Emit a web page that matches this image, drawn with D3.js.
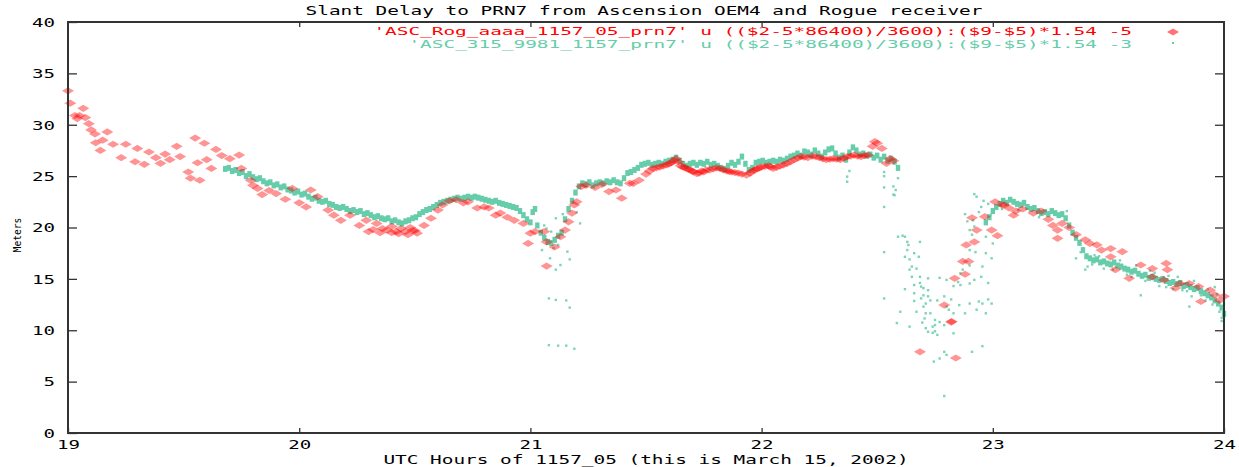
<!DOCTYPE html>
<html>
<head>
<meta charset="utf-8">
<script src="https://cdn.jsdelivr.net/npm/d3@7"></script>
<style>
  html, body { margin: 0; padding: 0; background: #fff; }
  svg { display: block; }
  text { font-family: "DejaVu Sans Mono", "Liberation Mono", monospace; }
</style>
</head>
<body>
<svg id="chart" width="1239" height="467"></svg>
<script>
// ---- labels -------------------------------------------------------------
const titleText = "Slant Delay to PRN7 from Ascension OEM4 and Rogue receiver";
const xLabelText = "UTC Hours of 1157_05 (this is March 15, 2002)";
const yLabelText = "Meters";
const rogueKey = "'ASC_Rog_aaaa_1157_05_prn7' u (($2-5*86400)/3600):($9-$5)*1.54 -5";
const oem4Key = "'ASC_315_9981_1157_prn7' u (($2-5*86400)/3600):($9-$5)*1.54 -3";

// ---- ticks --------------------------------------------------------------
const xTicks = [19, 20, 21, 22, 23, 24];
const yTicks = [0, 5, 10, 15, 20, 25, 30, 35, 40];

// ---- Rogue receiver: [UTC hour, slant delay in meters] -------------------
const rogueDelay = [
  [19.000,33.3],[19.010,32.1],[19.030,30.9],[19.040,30.6],[19.050,30.9],[19.066,31.6],
  [19.075,30.7],[19.090,30.1],[19.100,29.5],[19.117,29.1],[19.120,28.25],[19.140,27.5],
  [19.150,28.5],[19.170,29.3],[19.195,28.1],[19.230,26.8],[19.250,28.1],[19.290,26.4],
  [19.300,27.7],[19.330,26.15],[19.350,27.35],[19.380,26.8],[19.400,26.25],[19.420,27.15],
  [19.440,26.6],[19.470,27.9],[19.485,26.9],[19.520,25.4],[19.530,24.8],[19.550,28.7],
  [19.560,26.3],[19.570,24.6],[19.590,28.2],[19.600,26.6],[19.620,25.75],[19.640,27.6],
  [19.665,27.0],[19.700,26.7],[19.740,27.05],[19.750,25.75],[19.790,24.6],[19.800,24.1],
  [19.820,23.8],[19.840,23.2],[19.870,23.6],[19.900,23.3],[19.940,22.75],[19.970,23.8],
  [20.000,22.4],[20.030,22.0],[20.050,23.65],[20.080,23.0],[20.125,21.7],[20.150,21.2],
  [20.180,20.7],[20.220,21.2],[20.260,20.2],[20.290,20.7],[20.300,19.6],[20.335,20.4],
  [20.320,19.8],[20.350,19.5],[20.360,19.9],[20.380,19.75],[20.400,19.5],[20.400,20.1],
  [20.420,19.6],[20.430,19.4],[20.440,19.9],[20.460,19.6],[20.470,19.3],[20.480,20.0],
  [20.490,19.7],[20.500,19.7],
  [20.510,19.45],[20.540,20.2],[20.570,20.9],[20.600,21.7],[20.620,22.2],[20.650,22.6],
  [20.680,22.7],[20.710,22.4],[20.730,22.5],[20.770,21.9],[20.800,22.0],[20.820,21.9],
  [20.850,21.2],[20.870,21.4],[20.900,21.0],[20.930,20.7],[20.970,20.4],[21.000,19.45],
  [20.990,18.45],[21.020,19.6],[21.060,19.6],[21.070,18.6],[21.105,18.1],[21.070,16.25],
  [21.130,19.1],[21.150,19.75],[21.165,20.55],[21.180,21.4],[21.190,22.2],[21.200,22.5],
  [21.220,24.0],[21.240,24.1],[21.280,23.9],[21.310,24.2],[21.340,23.5],[21.370,23.65],
  [21.395,22.85],[21.430,24.3],[21.445,24.3],[21.470,24.6],[21.500,25.2],[21.515,25.5],
  [21.530,25.75],[21.545,25.8],[21.560,25.9],[21.575,26.0],[21.590,26.1],[21.600,26.2],
  [21.610,26.3],[21.620,26.5],[21.630,26.7],[21.640,26.4],[21.650,26.0],[21.660,25.9],
  [21.670,25.8],[21.680,25.7],[21.690,25.6],[21.700,25.5],[21.705,25.4],[21.720,25.25],
  [21.730,25.3],[21.740,25.5],[21.750,25.4],[21.760,25.6],[21.775,25.6],[21.790,25.7],
  [21.805,25.8],[21.820,25.75],[21.835,25.6],[21.850,25.5],[21.860,25.45],[21.870,25.4],
  [21.885,25.35],[21.900,25.3],[21.915,25.2],[21.935,25.1],[21.950,25.3],[21.960,25.5],
  [21.970,25.6],[21.980,25.7],[21.990,25.8],[22.000,25.9],[22.015,25.95],[22.030,26.0],
  [22.040,25.9],[22.050,25.75],[22.065,25.85],[22.080,26.0],[22.095,26.1],[22.110,26.25],
  [22.125,26.4],[22.140,26.6],[22.155,26.75],[22.170,26.9],[22.185,26.85],[22.200,26.8],
  [22.220,26.95],[22.235,26.9],[22.250,26.8],[22.265,26.7],[22.280,26.6],[22.295,26.65],
  [22.310,26.7],[22.325,26.65],[22.340,26.6],[22.355,26.75],[22.370,26.9],[22.385,26.95],
  [22.400,27.05],[22.415,26.95],[22.430,26.9],[22.445,27.0],[22.460,27.05],
  [22.480,27.9],[22.490,28.35],[22.500,28.2],[22.520,27.7],[22.540,26.25],[22.555,26.7],
  [22.570,26.5],
  [22.685,7.9],[22.790,12.45],[22.820,10.8],[22.822,10.85],[22.840,7.3],[22.835,15.05],
  [22.880,15.45],[22.870,16.7],[22.895,16.7],[22.885,18.3],[22.920,18.6],[22.930,19.75],
  [22.995,19.75],[23.020,19.2],[22.910,20.95],[22.965,21.05],[23.010,22.5],[23.040,22.2],
  [23.090,21.2],[23.050,22.2],[23.070,21.9],[23.100,21.6],[23.130,21.8],[23.175,21.4],
  [23.210,21.6],[23.240,20.8],[23.260,20.2],[23.280,19.75],[23.280,18.95],[23.300,20.4],
  [23.330,20.0],[23.360,19.3],[23.400,18.8],[23.420,18.45],[23.450,18.3],[23.470,17.8],
  [23.510,17.95],[23.510,17.15],[23.560,17.65],[23.530,15.9],[23.590,15.05],[23.640,16.35],
  [23.690,16.0],[23.750,16.5],[23.755,15.9],[23.690,15.2],[23.740,14.9],[23.790,14.1],
  [23.810,14.55],[23.850,14.55],[23.890,14.25],[23.900,12.8],[23.940,13.9],[23.960,13.45],
  [24.000,13.3],[23.980,12.9]
];

// ---- OEM4 receiver, continuous track: [UTC hour, meters] ----------------
const oem4Trace = [
  [19.680,25.7],[19.695,25.8],[19.710,25.5],[19.725,25.6],[19.740,25.3],[19.755,25.4],
  [19.770,25.0],[19.785,25.2],[19.800,24.9],[19.815,24.7],[19.830,24.8],[19.845,24.5],
  [19.860,24.3],[19.875,24.4],[19.890,24.1],[19.905,24.2],[19.920,23.9],[19.935,24.0],
  [19.950,23.7],[19.965,23.6],[19.980,23.4],[19.995,23.5],[20.010,23.2],[20.025,23.3],
  [20.040,23.0],[20.055,22.8],[20.070,22.9],[20.085,22.6],[20.100,22.5],[20.115,22.6],
  [20.130,22.3],[20.145,22.2],[20.160,22.0],[20.175,21.9],[20.190,22.0],[20.205,21.8],
  [20.220,21.6],[20.235,21.7],[20.250,21.5],[20.265,21.6],[20.280,21.3],[20.295,21.4],
  [20.310,21.2],[20.325,21.0],[20.340,21.1],[20.355,20.9],[20.370,20.8],[20.385,20.9],
  [20.400,20.6],[20.415,20.7],[20.430,20.5],[20.445,20.4],[20.460,20.6],[20.475,20.7],
  [20.490,20.9],[20.505,21.0],[20.520,21.3],[20.535,21.5],[20.550,21.7],[20.565,21.8],
  [20.580,22.0],[20.595,22.2],[20.610,22.4],[20.625,22.5],[20.640,22.6],[20.655,22.7],
  [20.670,22.8],[20.685,22.9],[20.700,22.8],[20.715,22.9],[20.730,23.0],[20.745,22.9],
  [20.760,23.0],[20.775,22.9],[20.790,22.8],[20.805,22.7],[20.820,22.6],[20.835,22.5],
  [20.850,22.6],[20.865,22.4],[20.880,22.3],[20.895,22.2],[20.910,22.1],[20.925,22.0],
  [20.940,21.9],[20.955,21.6],[20.970,21.2],[20.985,20.8],[21.000,20.5],[21.010,21.5],
  [21.020,21.8],[21.030,20.2],[21.045,19.5],[21.060,19.0],[21.075,18.6],[21.090,18.5],
  [21.105,18.8],[21.120,19.2],[21.135,19.5],[21.150,20.8],[21.165,21.8],[21.180,22.6],
  [21.195,23.4],[21.210,24.0],[21.225,24.3],[21.240,24.2],[21.255,24.4],[21.270,24.1],
  [21.285,24.3],[21.300,24.4],[21.315,24.3],[21.330,24.5],[21.345,24.4],[21.360,24.6],
  [21.375,24.4],[21.390,24.3],[21.405,24.8],[21.420,25.3],[21.435,25.4],[21.450,25.6],
  [21.465,25.8],[21.480,26.1],[21.495,26.2],[21.510,26.3],[21.525,26.1],[21.540,26.2],
  [21.555,26.3],[21.570,26.2],[21.585,26.4],[21.600,26.5],[21.615,26.6],[21.630,26.8],
  [21.645,26.5],[21.660,26.2],[21.675,26.0],[21.690,26.2],[21.705,26.3],[21.720,26.1],
  [21.735,26.3],[21.750,26.2],[21.765,26.4],[21.780,26.1],[21.795,26.2],[21.810,26.0],
  [21.825,25.8],[21.840,25.7],[21.855,26.0],[21.870,26.3],[21.885,26.1],[21.900,26.4],
  [21.915,26.9],[21.930,26.2],[21.945,25.6],[21.960,25.8],[21.975,26.3],[21.990,26.4],
  [22.005,26.5],[22.020,26.3],[22.035,26.4],[22.050,26.5],[22.065,26.4],[22.080,26.6],
  [22.095,26.5],[22.110,26.7],[22.125,26.9],[22.140,27.0],[22.155,27.2],[22.170,27.0],
  [22.185,27.4],[22.200,27.3],[22.215,27.1],[22.230,27.5],[22.245,27.2],[22.260,26.9],
  [22.275,27.3],[22.290,27.6],[22.305,27.7],[22.320,27.2],[22.335,26.8],[22.350,27.0],
  [22.365,26.6],[22.380,27.3],[22.395,27.8],[22.410,27.5],[22.425,27.1],[22.440,27.2],
  [22.455,27.0],[22.470,27.1],[22.485,26.8],[22.500,27.0],[22.515,26.6],[22.530,26.9],
  [22.545,26.5],[22.560,26.7],[22.575,26.4],[22.590,25.8],
  [22.970,20.5],[22.985,21.0],[23.000,21.6],[23.015,22.0],[23.030,22.3],[23.045,22.6],
  [23.060,22.4],[23.075,22.7],[23.090,22.5],[23.105,22.3],[23.120,22.2],[23.135,22.4],
  [23.150,22.0],[23.165,21.8],[23.180,21.9],[23.195,21.6],[23.210,21.4],[23.225,21.5],
  [23.240,21.3],[23.255,21.6],[23.270,21.4],[23.285,21.2],[23.300,21.3],[23.315,20.9],
  [23.330,20.2],[23.345,19.5],[23.360,19.0],[23.375,18.5],[23.390,17.8],[23.405,17.2],
  [23.420,17.0],[23.435,16.8],[23.450,16.9],[23.465,16.6],[23.480,16.7],[23.495,16.5],
  [23.510,16.4],[23.525,16.6],[23.540,16.3],[23.555,16.2],[23.570,16.0],[23.585,15.9],
  [23.600,15.7],[23.615,15.8],[23.630,15.5],[23.645,15.3],[23.660,15.4],[23.675,15.1],
  [23.690,15.2],[23.705,15.0],[23.720,14.9],[23.735,15.0],[23.750,14.8],[23.765,14.6],
  [23.780,14.7],[23.795,14.5],[23.810,14.6],[23.825,14.3],[23.840,14.4],[23.855,14.2],
  [23.870,14.0],[23.885,14.1],[23.900,13.8],[23.915,13.6],[23.930,13.4],[23.945,13.2],
  [23.960,12.9],[23.975,12.6],[23.990,12.2],[24.000,11.6]
];

// ---- OEM4 receiver, isolated samples: [UTC hour, meters] ----------------
const oem4Scatter = [
  [21.050,17.8],[21.085,17.0],[21.130,16.35],[21.160,17.65],[21.170,16.9],[21.110,15.9],
  [21.080,13.1],[21.110,12.95],[21.155,12.9],[21.170,12.2],[21.080,8.55],[21.120,8.5],
  [21.155,8.5],[21.190,8.2],[21.215,20.4],[21.110,20.9],[21.060,20.2],[21.090,19.6],
  [21.070,19.9],[21.100,18.0],[21.120,18.3],[21.200,21.5],[21.140,21.3],
  [22.370,24.95],[22.370,24.45],[22.380,25.5],[22.530,25.4],[22.530,25.0],[22.530,23.9],
  [22.530,22.0],[22.530,17.6],[22.530,13.1],[22.570,24.0],[22.580,23.65],[22.590,24.8],
  [22.570,23.2],[22.575,23.15],[22.590,19.1],[22.610,19.2],[22.620,19.1],[22.630,18.6],
  [22.635,18.3],[22.630,17.8],[22.620,17.15],[22.640,16.9],[22.660,17.5],[22.680,17.15],
  [22.685,18.6],[22.650,16.2],[22.670,16.0],[22.640,15.9],[22.685,15.2],[22.685,14.6],
  [22.690,14.25],[22.700,14.1],[22.700,13.4],[22.720,15.05],[22.720,13.9],[22.720,13.3],
  [22.660,14.4],[22.620,14.0],[22.660,12.85],[22.670,11.8],[22.700,12.3],[22.710,12.6],
  [22.710,11.65],[22.730,11.65],[22.705,11.15],[22.750,11.0],[22.770,10.8],[22.790,10.5],
  [22.740,10.35],[22.750,10.5],[22.710,10.2],[22.720,9.85],[22.740,9.75],[22.760,9.55],
  [22.750,9.9],[22.695,10.75],[22.640,10.35],[22.585,10.7],[22.790,13.3],[22.810,12.0],
  [22.800,12.3],[22.830,11.65],[22.855,12.45],[22.880,11.65],[22.900,12.6],[22.940,12.8],
  [22.955,12.6],[22.995,12.6],[22.980,13.0],[22.930,12.0],[22.970,11.65],[22.830,9.7],
  [22.790,7.9],[22.770,7.25],[22.745,6.95],[22.800,7.6],[22.910,7.9],[22.955,8.45],
  [22.790,3.6],[22.920,23.25],[22.800,14.9],[22.850,14.7],[22.860,14.4],[22.900,14.55],
  [22.920,14.9],[22.870,15.9],[22.860,15.55],[22.900,16.3],[22.955,16.2],[22.900,17.8],
  [22.910,19.3],[22.900,19.75],[22.920,20.1],[22.915,20.7],[22.925,17.6],[22.970,17.5],
  [22.995,17.0],[22.970,19.1],[23.000,18.45],[22.940,21.5],[22.950,22.0],[22.960,22.6],
  [22.980,22.3],[22.990,21.2],[22.880,21.3],[22.890,20.6],[22.930,23.0],[22.650,15.2],
  [22.660,13.6],[22.690,13.1],[22.730,12.9],[22.770,15.1],[22.830,14.3],[22.760,12.9],
  [22.600,11.8],[22.820,13.0],[22.950,15.2],[22.980,14.6],
  [23.400,15.9],[23.410,16.2],[23.360,17.0],[23.440,17.3],[23.480,16.0],[23.520,15.9],
  [23.550,16.8],[23.600,15.2],[23.620,16.3],[23.660,14.8],[23.700,15.6],[23.720,14.3],
  [23.780,14.0],[23.800,15.2],[23.840,13.8],[23.870,14.8],[23.900,13.4],[23.930,14.0],
  [23.950,12.5],[23.970,13.5],[23.980,11.8],[23.990,11.2],[24.000,12.6],[23.990,10.9],
  [23.860,13.3],[23.750,14.2],[23.640,13.4],[23.850,12.3],[23.380,17.6],[23.430,16.4],
  [23.460,17.2],[23.580,15.4],[23.680,15.8],[23.760,15.3],[23.820,13.9],[23.920,12.9],
  [23.960,14.2],[23.040,21.8],[23.110,21.7],[23.200,21.0],[23.320,21.6]
];

// ---- layout -------------------------------------------------------------
const svg = d3.select("#chart");
const plot = { left: 68, right: 1224, top: 22, bottom: 433 };
const charW = 11.67;          // wide fixed-pitch glyph cell
const red = "#ff0000";
const green = "#66cdaa";
const axisColor = "#333333";

const x = d3.scaleLinear().domain([19, 24]).range([plot.left, plot.right]);
const y = d3.scaleLinear().domain([0, 40]).range([plot.bottom, plot.top]);

// stretched monospace text helper
function wideText(sel, str, w) {
  sel.text(str)
     .attr("textLength", str.length * w)
     .attr("lengthAdjust", "spacingAndGlyphs");
  return sel;
}

// ---- data marks ---------------------------------------------------------
const diamond = "M0,-3.6L6,0L0,3.6L-6,0Z";

svg.append("g").attr("class", "oem4-trace")
  .selectAll("rect").data(oem4Trace).join("rect")
  .attr("x", d => x(d[0]) - 2.2)
  .attr("y", d => y(d[1]) - 3)
  .attr("width", 4.4)
  .attr("height", 6)
  .attr("fill", green);

svg.append("g").attr("class", "oem4-scatter")
  .selectAll("rect").data(oem4Scatter).join("rect")
  .attr("x", d => x(d[0]) - 1.2)
  .attr("y", d => y(d[1]) - 1.2)
  .attr("width", 2.4)
  .attr("height", 2.4)
  .attr("fill", green)
  .attr("opacity", 0.85);

svg.append("g").attr("class", "rogue")
  .selectAll("path").data(rogueDelay).join("path")
  .attr("d", diamond)
  .attr("transform", d => `translate(${x(d[0])},${y(d[1])})`)
  .attr("fill", red)
  .attr("fill-opacity", 0.42);

// ---- axes ---------------------------------------------------------------
const fmt = d3.format("d");

const gLeft = svg.append("g").attr("transform", `translate(${plot.left},0)`)
  .call(d3.axisLeft(y).tickValues(yTicks).tickFormat(fmt).tickSizeInner(-9).tickSizeOuter(0).tickPadding(13));
const gRight = svg.append("g").attr("transform", `translate(${plot.right},0)`)
  .call(d3.axisRight(y).tickValues(yTicks.slice(1, -1)).tickFormat("").tickSizeInner(-9).tickSizeOuter(0));
const gBottom = svg.append("g").attr("transform", `translate(0,${plot.bottom})`)
  .call(d3.axisBottom(x).tickValues(xTicks).tickFormat(fmt).tickSizeInner(-5).tickSizeOuter(0).tickPadding(7));
const gTop = svg.append("g").attr("transform", `translate(0,${plot.top})`)
  .call(d3.axisTop(x).tickValues(xTicks.slice(1, -1)).tickFormat("").tickSizeInner(-5).tickSizeOuter(0));

[gLeft, gRight, gBottom, gTop].forEach(g => {
  g.select(".domain").remove();
  g.selectAll(".tick line").attr("stroke", axisColor).attr("stroke-width", 1.3);
  g.selectAll(".tick text")
    .attr("fill", "#000")
    .style("font-family", "'DejaVu Sans Mono', monospace")
    .style("font-size", "12px")
    .each(function () {
      const t = d3.select(this);
      const s = t.text();
      if (s) t.attr("textLength", s.length * 11.5).attr("lengthAdjust", "spacingAndGlyphs");
    });
});
gLeft.selectAll(".tick text").attr("dy", "0.36em");
gBottom.selectAll(".tick text").attr("dy", "0.71em");

// frame
svg.append("rect")
  .attr("x", plot.left).attr("y", plot.top)
  .attr("width", plot.right - plot.left).attr("height", plot.bottom - plot.top)
  .attr("fill", "none").attr("stroke", axisColor).attr("stroke-width", 2);

// ---- titles -------------------------------------------------------------
wideText(svg.append("text")
  .attr("x", 644).attr("y", 15).attr("text-anchor", "middle")
  .attr("font-size", 12).attr("fill", "#000"), titleText, charW);

wideText(svg.append("text")
  .attr("x", 646).attr("y", 464).attr("text-anchor", "middle")
  .attr("font-size", 12).attr("fill", "#000"), xLabelText, charW);

wideText(svg.append("text")
  .attr("transform", "translate(21,235) rotate(-90)")
  .attr("text-anchor", "middle")
  .attr("font-size", 10).attr("fill", "#000"), yLabelText, 5.8);

// ---- key ----------------------------------------------------------------
const keyRight = 1132;
wideText(svg.append("text")
  .attr("x", keyRight).attr("y", 35).attr("text-anchor", "end")
  .attr("font-size", 10.5).attr("fill", red), rogueKey, charW);
wideText(svg.append("text")
  .attr("x", keyRight).attr("y", 47.5).attr("text-anchor", "end")
  .attr("font-size", 10.5).attr("fill", green), oem4Key, charW);

svg.append("path")
  .attr("d", diamond)
  .attr("transform", "translate(1173,32)")
  .attr("fill", red).attr("fill-opacity", 0.55);
svg.append("rect")
  .attr("x", 1172).attr("y", 42).attr("width", 2).attr("height", 2)
  .attr("fill", green);
</script>
</body>
</html>
